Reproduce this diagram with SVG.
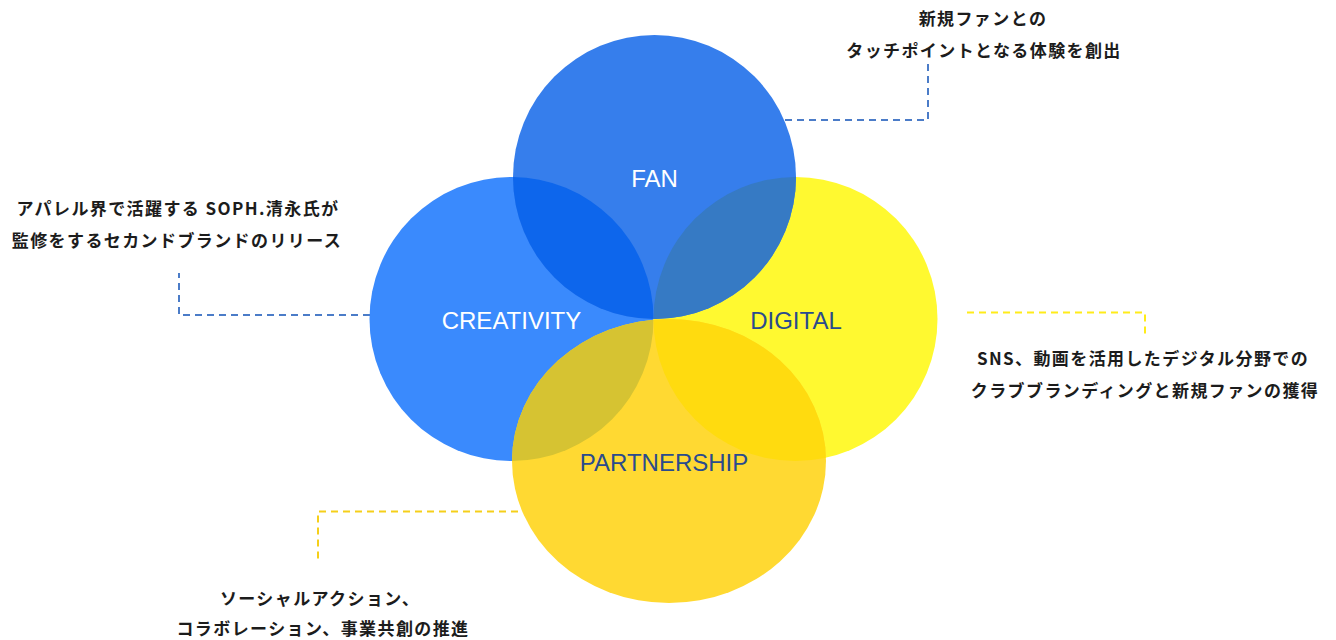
<svg xmlns="http://www.w3.org/2000/svg" width="1336" height="640" viewBox="0 0 1336 640">
<style>
.lbl{font-family:"Liberation Sans",Arial,sans-serif;font-size:24px;text-anchor:middle;dominant-baseline:central}
.w{fill:#ffffff}
.n{fill:#2a4b8d}
.note{font-family:"Noto Sans CJK JP","Noto Sans",sans-serif;font-weight:bold;font-size:17px;fill:#1c1c1c;text-anchor:middle;letter-spacing:1.4px}
.dash{fill:none;stroke-width:2;stroke-dasharray:7 5}
</style>
<defs>
<clipPath id="clipFan"><ellipse cx="654.5" cy="177" rx="141.5" ry="142"/></clipPath>
<clipPath id="clipPart"><ellipse cx="669" cy="461" rx="157" ry="142"/></clipPath>
</defs>
<rect width="1336" height="640" fill="#ffffff"/>
<g id="connectors">
<path class="dash" stroke="#4b7cc8" d="M785 120 H928 V60"/>
<path class="dash" stroke="#4b7cc8" d="M370 315 H179 V273"/>
<path class="dash" stroke="#ffec1a" d="M967 312.5 H1145 V334"/>
<path class="dash" stroke="#f5cf1a" d="M518 511.5 H318 V562"/>
</g>
<g id="node-creativity">
<ellipse cx="511.5" cy="319" rx="142" ry="142" fill="#3a8afd"/>
</g>
<g id="node-digital">
<ellipse cx="795.5" cy="319" rx="142" ry="142" fill="#fff930"/>
</g>
<g id="node-fan">
<ellipse cx="654.5" cy="177" rx="141.5" ry="142" fill="#367eec"/>
</g>
<g id="node-partnership">
<ellipse cx="669" cy="461" rx="157" ry="142" fill="#ffd932"/>
</g>
<g id="overlaps">
<ellipse cx="511.5" cy="319" rx="142" ry="142" fill="#0d66ec" clip-path="url(#clipFan)"/>
<ellipse cx="795.5" cy="319" rx="142" ry="142" fill="#367ac4" clip-path="url(#clipFan)"/>
<ellipse cx="511.5" cy="319" rx="142" ry="142" fill="#d6c332" clip-path="url(#clipPart)"/>
<ellipse cx="795.5" cy="319" rx="142" ry="142" fill="#ffdb0f" clip-path="url(#clipPart)"/>
</g>
<g id="labels">
<text class="lbl w" x="654.5" y="178">FAN</text>
<text class="lbl w" x="511.5" y="320">CREATIVITY</text>
<text class="lbl n" x="796" y="320">DIGITAL</text>
<text class="lbl n" x="664" y="462">PARTNERSHIP</text>
</g>
<g id="note-fan">
<text class="note" x="983" y="25">新規ファンとの</text>
<text class="note" x="984" y="57">タッチポイントとなる体験を創出</text>
</g>
<g id="note-creativity">
<text class="note" x="178" y="215">アパレル界で活躍する SOPH.清永氏が</text>
<text class="note" x="177" y="247">監修をするセカンドブランドのリリース</text>
</g>
<g id="note-digital">
<text class="note" x="1143" y="365">SNS、動画を活用したデジタル分野での</text>
<text class="note" x="1145" y="397">クラブブランディングと新規ファンの獲得</text>
</g>
<g id="note-partnership">
<text class="note" x="320" y="605">ソーシャルアクション、</text>
<text class="note" x="323" y="635">コラボレーション、事業共創の推進</text>
</g>
</svg>
